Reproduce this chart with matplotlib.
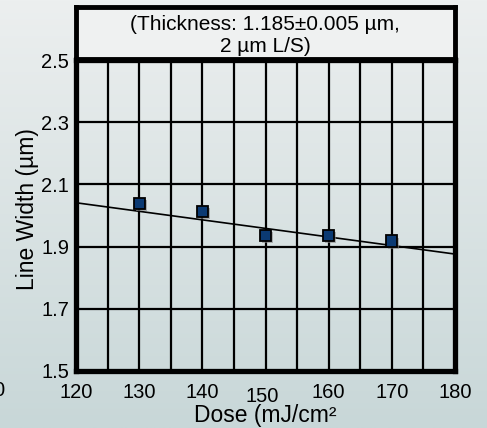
import numpy as np
import matplotlib
matplotlib.use('Agg')
import matplotlib.pyplot as plt
import matplotlib.transforms as mtransforms
import matplotlib.patheffects as pe

plt.rcParams['font.family'] = ['Liberation Sans', 'DejaVu Sans']

# data
dose = [130, 140, 150, 160, 170]
line_width = [2.040, 2.014, 1.937, 1.937, 1.918]
fit_x = [120, 180]
fit_y = [2.041, 1.876]
x_ticks = [120, 130, 140, 150, 160, 170, 180]
y_ticks = [1.5, 1.7, 1.9, 2.1, 2.3, 2.5]
x_grid = np.arange(120, 181, 5)
title_text = '(Thickness: 1.185\u00b10.005 \u00b5m,\n2 \u00b5m L/S)'

fig = plt.figure(figsize=(4.87, 4.28), dpi=100)

# gradient background
bg = fig.add_axes([0, 0, 1, 1], zorder=-10)
top = np.array([236, 239, 239]) / 255
bot = np.array([200, 215, 216]) / 255
t = np.linspace(0, 1, 256)[:, None]
grad = (top * (1 - t) + bot * t)[:, None, :]
bg.imshow(grad, aspect='auto', extent=[0, 1, 0, 1])
bg.set_axis_off()

ax = fig.add_axes([76 / 487, 1 - 371 / 428, 379 / 487, 311 / 428])
ax.patch.set_alpha(0)
ax.set_xlim(120, 180)
ax.set_ylim(1.5, 2.5)

for gx in x_grid:
    ax.axvline(gx, color='black', lw=1.6, zorder=1)
for gy in y_ticks:
    ax.axhline(gy, color='black', lw=1.6, zorder=1)

ax.plot(fit_x, fit_y, color='black', lw=1.2, zorder=2)
ax.plot(dose, line_width, linestyle='none', marker='s', markersize=8,
        markerfacecolor='#0b3a73', markeredgecolor='black', markeredgewidth=1.3,
        zorder=3,
        path_effects=[pe.SimplePatchShadow(offset=(1.5, -1.5), shadow_rgbFace='#888888', alpha=0.6),
                      pe.Normal()])

ax.set_xticks(x_ticks)
ax.set_yticks(y_ticks)
ax.set_yticklabels([f'{v:.1f}' for v in y_ticks])
ax.tick_params(length=0, labelsize=14.5)
ax.tick_params(axis='x', pad=9)
ax.tick_params(axis='y', pad=5)

# the 150 label sits a bit lower and left in the original
lab150 = ax.get_xticklabels()[3]
lab150.set_transform(lab150.get_transform() +
                     mtransforms.ScaledTranslation(-3 / 100, -4 / 100, fig.dpi_scale_trans))

for s in ax.spines.values():
    s.set_linewidth(3.8)
    s.set_zorder(4)

ax.set_xlabel('Dose (mJ/cm\u00b2', fontsize=16.5, labelpad=-1.5)
ax.set_ylabel('Line Width (\u00b5m)', fontsize=16.5)
ax.yaxis.set_label_coords(-0.097, 0.52)

# title box
box = fig.add_axes([75.5 / 487, 1 - 59 / 428, 379 / 487, 52 / 428])
box.set_xticks([])
box.set_yticks([])
box.set_facecolor('#eff1f1')
for s in box.spines.values():
    s.set_linewidth(3.5)
box.text(0.5, 0.46, title_text, ha='center', va='center', fontsize=15,
         linespacing=1.2, transform=box.transAxes)

# cut-off label at the left edge of the original image
fig.text(4 / 487, 1 - 391 / 428, '0', ha='right', va='center', fontsize=14.5)

fig.savefig('out.png', dpi=100)
